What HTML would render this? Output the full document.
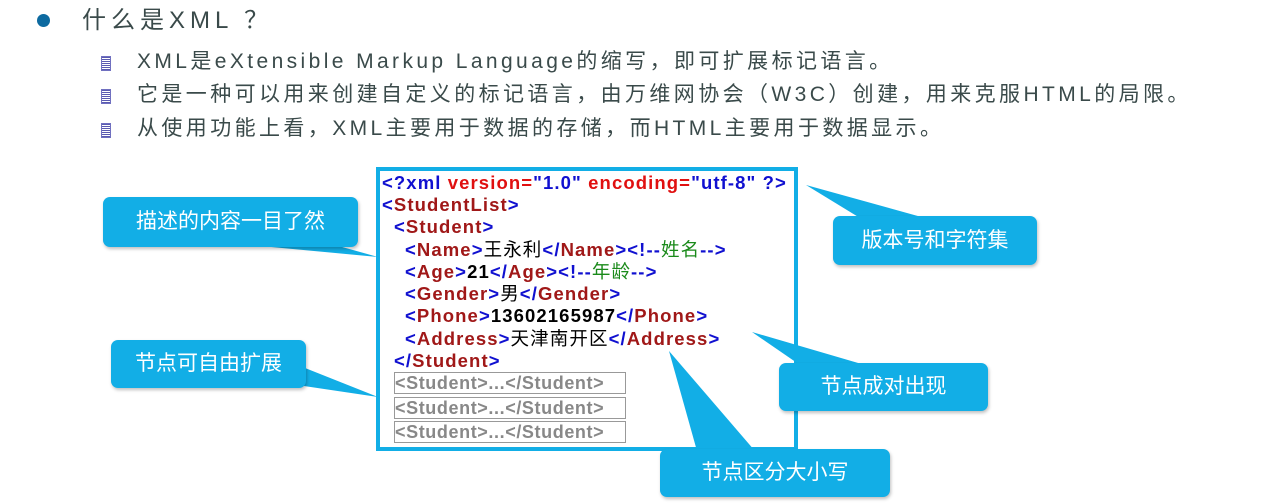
<!DOCTYPE html>
<html><head><meta charset="utf-8"><style>
body{margin:0;width:1264px;height:504px;background:#fff;position:relative;overflow:hidden;font-family:"Liberation Sans","Noto Sans CJK SC",sans-serif}
.a{position:absolute;white-space:nowrap}
.t{color:#3a4a4a;font-size:21px;letter-spacing:3.4px;line-height:26px}
.sb{position:absolute;width:8px;height:13px;background:repeating-linear-gradient(#5a5ab0 0 1px,#fff 1px 2px);border:1px solid #7070c0}
.box{position:absolute;left:376px;top:167px;width:414px;height:276px;border:4px solid #12aee6;background:#fff}
.x{position:absolute;font-weight:bold;font-size:18.5px;letter-spacing:1.1px;line-height:22px;height:22px;white-space:nowrap;font-family:"Liberation Sans","Noto Sans CJK SC",sans-serif}
.b{color:#1010d0}.r{color:#a01818}.rr{color:#e01010}.k{color:#000}.g{color:#1a8a1a}
.gr{position:absolute;left:394px;width:230px;height:20px;border:1px solid #999;color:#888;font-weight:bold;font-size:18px;line-height:20px;letter-spacing:0.6px;overflow:hidden;white-space:nowrap}
.c{position:absolute;background:#12aee6;border-radius:7px;color:#fff;font-size:21px;text-align:center;box-shadow:1px 2px 3px rgba(0,0,0,.25)}
</style></head><body>
<div class="a" style="left:37px;top:14px;width:13px;height:13px;border-radius:50%;background:#0d6aa0"></div>
<div class="a t" style="left:82px;top:6px;font-size:24px;letter-spacing:5px;line-height:30px">什么是XML ？</div>
<div class="sb" style="left:101px;top:56px"></div>
<div class="sb" style="left:101px;top:89px"></div>
<div class="sb" style="left:101px;top:123px"></div>
<div class="a t" style="left:137px;top:49px">XML是eXtensible Markup Language的缩写，即可扩展标记语言。</div>
<div class="a t" style="left:137px;top:82px">它是一种可以用来创建自定义的标记语言，由万维网协会（W3C）创建，用来克服HTML的局限。</div>
<div class="a t" style="left:137px;top:116px">从使用功能上看，XML主要用于数据的存储，而HTML主要用于数据显示。</div>

<div class="box"></div>
<div class="x" style="left:382px;top:172px"><span class="b">&lt;?xml </span><span class="rr">version=</span><span class="b">"1.0" </span><span class="rr">encoding=</span><span class="b">"utf-8" ?&gt;</span></div>
<div class="x" style="left:382px;top:194px"><span class="b">&lt;</span><span class="r">StudentList</span><span class="b">&gt;</span></div>
<div class="x" style="left:394px;top:216px"><span class="b">&lt;</span><span class="r">Student</span><span class="b">&gt;</span></div>
<div class="x" style="left:405px;top:239px"><span class="b">&lt;</span><span class="r">Name</span><span class="b">&gt;</span><span class="k" style="font-weight:normal">王永利</span><span class="b">&lt;/</span><span class="r">Name</span><span class="b">&gt;&lt;!--</span><span class="g" style="font-weight:normal">姓名</span><span class="b">--&gt;</span></div>
<div class="x" style="left:405px;top:261px"><span class="b">&lt;</span><span class="r">Age</span><span class="b">&gt;</span><span class="k">21</span><span class="b">&lt;/</span><span class="r">Age</span><span class="b">&gt;&lt;!--</span><span class="g" style="font-weight:normal">年龄</span><span class="b">--&gt;</span></div>
<div class="x" style="left:405px;top:283px"><span class="b">&lt;</span><span class="r">Gender</span><span class="b">&gt;</span><span class="k" style="font-weight:normal">男</span><span class="b">&lt;/</span><span class="r">Gender</span><span class="b">&gt;</span></div>
<div class="x" style="left:405px;top:305px"><span class="b">&lt;</span><span class="r">Phone</span><span class="b">&gt;</span><span class="k">13602165987</span><span class="b">&lt;/</span><span class="r">Phone</span><span class="b">&gt;</span></div>
<div class="x" style="left:405px;top:328px"><span class="b">&lt;</span><span class="r">Address</span><span class="b">&gt;</span><span class="k" style="font-weight:normal">天津南开区</span><span class="b">&lt;/</span><span class="r">Address</span><span class="b">&gt;</span></div>
<div class="x" style="left:394px;top:350px"><span class="b">&lt;/</span><span class="r">Student</span><span class="b">&gt;</span></div>
<div class="gr" style="top:372px">&lt;Student&gt;...&lt;/Student&gt;</div>
<div class="gr" style="top:397px">&lt;Student&gt;...&lt;/Student&gt;</div>
<div class="gr" style="top:421px">&lt;Student&gt;...&lt;/Student&gt;</div>

<svg class="a" style="left:0;top:0" width="1264" height="504">
<g fill="#12aee6">
<polygon points="250,245 335,245 378,257"/>
<polygon points="300,366 304,386 378,397"/>
<polygon points="860,218 925,218 806,185"/>
<polygon points="800,365 865,365 752,332"/>
<polygon points="697,451 755,451 669,351"/>
</g></svg>
<div class="c" style="left:103px;top:197px;width:255px;height:50px;line-height:50px">描述的内容一目了然</div>
<div class="c" style="left:833px;top:216px;width:204px;height:49px;line-height:49px">版本号和字符集</div>
<div class="c" style="left:111px;top:340px;width:195px;height:48px;line-height:48px">节点可自由扩展</div>
<div class="c" style="left:779px;top:363px;width:209px;height:48px;line-height:48px">节点成对出现</div>
<div class="c" style="left:660px;top:449px;width:230px;height:48px;line-height:48px">节点区分大小写</div>
</body></html>
